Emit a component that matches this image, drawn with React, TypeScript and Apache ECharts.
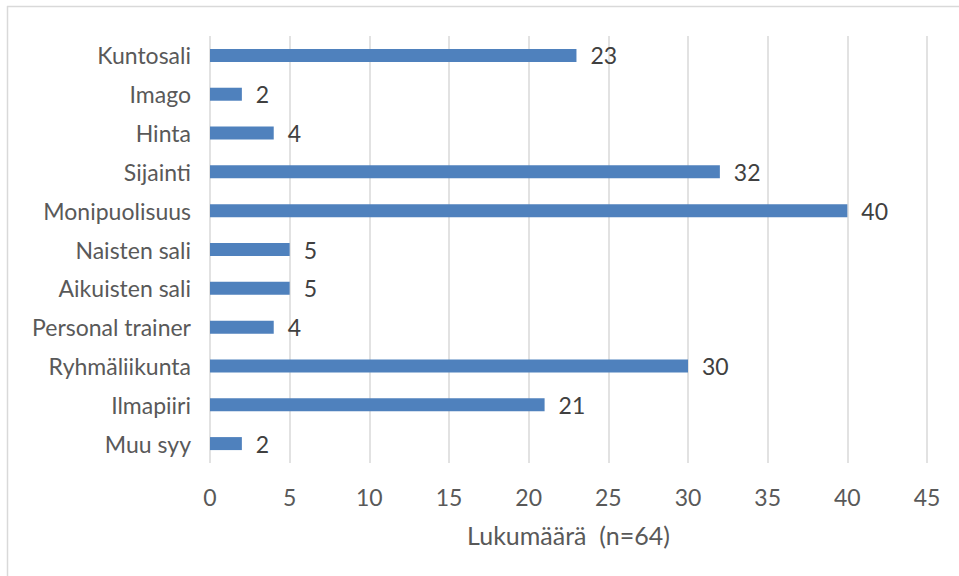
import React, { useEffect, useRef } from "react";
import * as echarts from "echarts";

const categories = [
  "Kuntosali",
  "Imago",
  "Hinta",
  "Sijainti",
  "Monipuolisuus",
  "Naisten sali",
  "Aikuisten sali",
  "Personal trainer",
  "Ryhmäliikunta",
  "Ilmapiiri",
  "Muu syy",
];
const values = [23, 2, 4, 32, 40, 5, 5, 4, 30, 21, 2];
const axisName = "Lukumäärä  (n=64)";
const xMin = 0;
const xMax = 45;
const xInterval = 5;

export default function App() {
  const ref = useRef<HTMLDivElement>(null);
  useEffect(() => {
    if (!ref.current) return;
    const chart = echarts.init(ref.current, null, { renderer: "svg" });
    const font = "Lato, 'Open Sans', sans-serif";
    chart.setOption({
      animation: false,
      backgroundColor: "#ffffff",
      textStyle: { fontFamily: font },
      grid: { left: 210, right: 32, top: 36, bottom: 113 },
      xAxis: {
        type: "value",
        min: xMin,
        max: xMax,
        interval: xInterval,
        axisLine: { show: false },
        axisTick: { show: false },
        splitLine: { show: true, lineStyle: { color: "#d9d9d9", width: 1.5 } },
        axisLabel: { color: "#595959", fontSize: 23, margin: 22, fontFamily: font },
        name: axisName,
        nameLocation: "middle",
        nameGap: 59,
        nameTextStyle: { color: "#595959", fontSize: 25, fontFamily: font },
      },
      yAxis: {
        type: "category",
        data: categories,
        inverse: true,
        axisLine: { show: false },
        axisTick: { show: false },
        splitLine: { show: false },
        axisLabel: { color: "#595959", fontSize: 23, margin: 19, fontFamily: font },
      },
      series: [
        {
          type: "bar",
          data: values,
          barWidth: 13,
          itemStyle: { color: "#4f81bd" },
          label: {
            show: true,
            position: "right",
            distance: 14,
            color: "#404040",
            fontSize: 23,
            fontFamily: font,
          },
        },
      ],
      graphic: [
        {
          type: "line",
          shape: { x1: 7, y1: 6.5, x2: 959, y2: 6.5 },
          style: { stroke: "#d9d9d9", lineWidth: 1.5 },
        },
        {
          type: "line",
          shape: { x1: 7.5, y1: 6, x2: 7.5, y2: 576 },
          style: { stroke: "#d9d9d9", lineWidth: 1.5 },
        },
      ],
    });
    return () => chart.dispose();
  }, []);
  return (
    <div
      ref={ref}
      style={{ position: "fixed", left: 0, top: 0, width: 959, height: 576 }}
    />
  );
}
